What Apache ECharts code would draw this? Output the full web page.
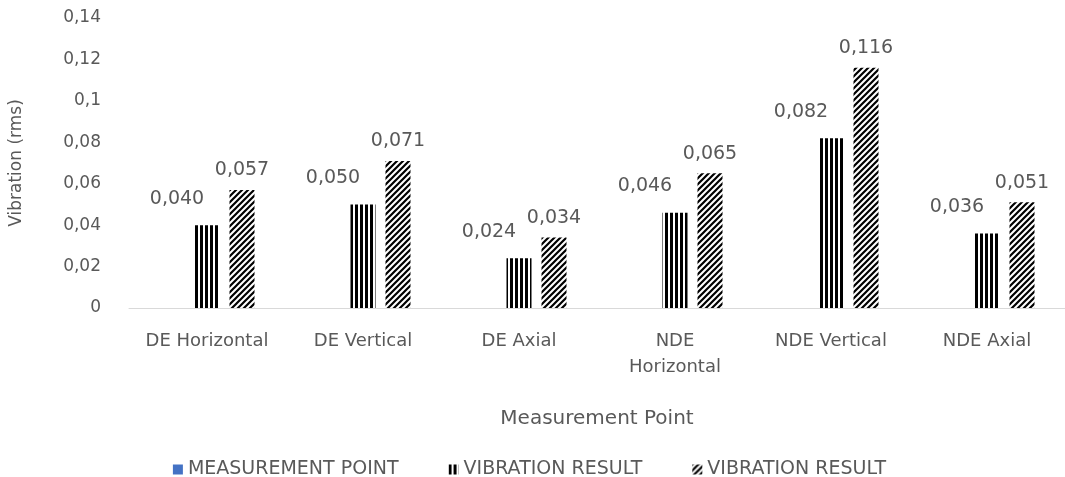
<!DOCTYPE html>
<html>
<head>
<meta charset="utf-8">
<script src="https://cdn.jsdelivr.net/npm/echarts@6/dist/echarts.min.js"></script>
<style>
  html, body { margin: 0; padding: 0; background: #ffffff; }
  #chart { width: 1065px; height: 477px; }
</style>
</head>
<body>
<div id="chart"></div>
<script>
// Measurement points along the machine
const categories = ['DE Horizontal', 'DE Vertical', 'DE Axial', 'NDE\nHorizontal', 'NDE Vertical', 'NDE Axial'];
// Series values (rms)
const measurementPoint = [0, 0, 0, 0, 0, 0];
const vibrationResultA = [0.040, 0.050, 0.024, 0.046, 0.082, 0.036];
const vibrationResultB = [0.057, 0.071, 0.034, 0.065, 0.116, 0.051];
// Y axis range
const yMin = 0, yMax = 0.14, yStep = 0.02;

const textColor = '#595959';

// Vertical stripe fill
function stripePattern() {
  const c = document.createElement('canvas');
  c.width = 5; c.height = 5;
  const g = c.getContext('2d');
  g.fillStyle = '#ffffff'; g.fillRect(0, 0, 5, 5);
  g.fillStyle = '#000000'; g.fillRect(0, 0, 3, 5);
  return c;
}
// Diagonal "/" hatch fill
function hatchPattern() {
  const s = 6;
  const c = document.createElement('canvas');
  c.width = s; c.height = s;
  const g = c.getContext('2d');
  g.fillStyle = '#ffffff'; g.fillRect(0, 0, s, s);
  g.strokeStyle = '#000000'; g.lineWidth = 2.2;
  g.beginPath();
  g.moveTo(-s, s); g.lineTo(s, -s);
  g.moveTo(0, s); g.lineTo(s, 0);
  g.moveTo(0, 2 * s); g.lineTo(2 * s, 0);
  g.stroke();
  return c;
}

const fmtTick = v => v === 0 ? '0' : String(Number(v.toFixed(2))).replace('.', ',');
const fmtVal = p => p.value.toFixed(3).replace('.', ',');

const chart = echarts.init(document.getElementById('chart'), null, { renderer: 'canvas' });
chart.setOption({
  animation: false,
  backgroundColor: '#ffffff',
  textStyle: { fontFamily: 'DejaVu Sans' },
  grid: { left: 129, right: -11, top: 18, bottom: 169, containLabel: false },
  legend: {
    left: 'center',
    top: 455,
    itemWidth: 10,
    itemHeight: 10,
    itemGap: 50,
    icon: 'rect',
    textStyle: { color: textColor, fontSize: 19, fontFamily: 'DejaVu Sans' }
  },
  xAxis: {
    type: 'category',
    data: categories,
    name: 'Measurement Point',
    nameLocation: 'middle',
    nameGap: 101,
    nameTextStyle: { color: textColor, fontSize: 20, fontFamily: 'DejaVu Sans' },
    axisLine: { lineStyle: { color: '#d9d9d9', width: 1 } },
    axisTick: { show: false },
    axisLabel: {
      color: textColor, fontSize: 18, lineHeight: 26, margin: 20,
      interval: 0, fontFamily: 'DejaVu Sans'
    }
  },
  yAxis: {
    type: 'value',
    min: yMin, max: yMax, interval: yStep,
    name: 'Vibration (rms)',
    nameLocation: 'middle',
    nameGap: 104,
    nameTextStyle: { color: textColor, fontSize: 17, fontFamily: 'DejaVu Sans' },
    axisLine: { show: false },
    axisTick: { show: false },
    splitLine: { show: false },
    axisLabel: { color: textColor, fontSize: 17, margin: 28, formatter: fmtTick, fontFamily: 'DejaVu Sans' }
  },
  series: [
    {
      name: 'MEASUREMENT POINT',
      type: 'bar',
      data: measurementPoint,
      barWidth: 25,
      barGap: '40%',
      itemStyle: { color: '#4472C4' }
    },
    {
      name: 'VIBRATION RESULT',
      type: 'bar',
      data: vibrationResultA,
      barWidth: 25,
      barGap: '40%',
      itemStyle: { color: { image: stripePattern(), repeat: 'repeat' } },
      label: {
        show: true, position: 'top', offset: [-30, -12],
        color: textColor, fontSize: 19, fontFamily: 'DejaVu Sans', formatter: fmtVal
      }
    },
    {
      name: 'VIBRATION RESULT ',
      type: 'bar',
      data: vibrationResultB,
      barWidth: 25,
      barGap: '40%',
      itemStyle: { color: { image: hatchPattern(), repeat: 'repeat' } },
      label: {
        show: true, position: 'top', offset: [0, -5],
        color: textColor, fontSize: 19, fontFamily: 'DejaVu Sans', formatter: fmtVal
      }
    }
  ]
});
</script>
</body>
</html>
